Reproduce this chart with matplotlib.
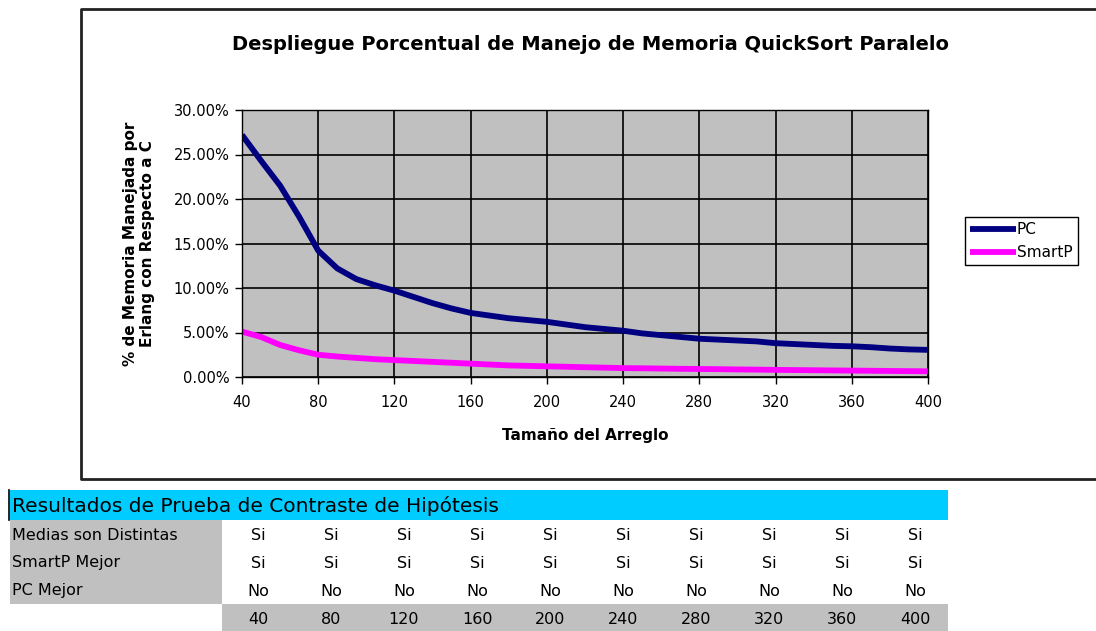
import matplotlib.pyplot as plt
from matplotlib.patches import Rectangle

plt.rcParams['font.family'] = ['DejaVu Sans']

# Chart data (percent of memory)
tamanos = list(range(40, 401, 10))
pc = [27.2, 24.3, 21.5, 18.0, 14.2, 12.2, 11.0, 10.3, 9.7, 9.0,
      8.3, 7.7, 7.2, 6.9, 6.6, 6.4, 6.2, 5.9, 5.6, 5.4,
      5.2, 4.9, 4.7, 4.5, 4.3, 4.2, 4.1, 4.0, 3.8, 3.7,
      3.6, 3.5, 3.45, 3.35, 3.2, 3.1, 3.05]
smartp = [5.1, 4.5, 3.6, 3.0, 2.5, 2.3, 2.15, 2.0, 1.9, 1.8,
          1.7, 1.6, 1.5, 1.4, 1.3, 1.25, 1.2, 1.15, 1.1, 1.05,
          1.0, 0.98, 0.95, 0.92, 0.9, 0.88, 0.85, 0.83, 0.8, 0.78,
          0.76, 0.74, 0.72, 0.7, 0.68, 0.66, 0.64]

# Table data
tabla_titulo = 'Resultados de Prueba de Contraste de Hipótesis'
filas = ['Medias son Distintas', 'SmartP Mejor', 'PC Mejor']
columnas = [40, 80, 120, 160, 200, 240, 280, 320, 360, 400]
medias_distintas = ['Si'] * 10
smartp_mejor = ['Si'] * 10
pc_mejor = ['No'] * 10

W, H = 1096, 631
fig = plt.figure(figsize=(W / 100, H / 100), dpi=100)

# overlay in pixel coords for the border, title and the table
bg = fig.add_axes([0, 0, 1, 1])
bg.set_xlim(0, W)
bg.set_ylim(H, 0)
bg.axis('off')
bg.plot([1100, 81, 81, 1100], [9, 9, 479, 479], color='#222222', lw=2)
bg.text(590, 45, 'Despliegue Porcentual de Manejo de Memoria QuickSort Paralelo',
        fontsize=14, fontweight='bold', ha='center', va='center')

# table
bg.add_patch(Rectangle((10, 490), 938, 30, color='#00CCFF', lw=0))
bg.plot([9, 9], [490, 520], color='black', lw=1.2)
bg.text(12, 506, tabla_titulo, fontsize=14.5, va='center', ha='left')
bg.add_patch(Rectangle((10, 520), 212, 84, color='#C0C0C0', lw=0))
bg.add_patch(Rectangle((222, 604), 726, 30, color='#C0C0C0', lw=0))
x0, dx = 258, 73
for i, (nombre, vals) in enumerate(zip(filas, [medias_distintas, smartp_mejor, pc_mejor])):
    y = 535 + i * 28
    bg.text(12, y, nombre, fontsize=11.5, va='center', ha='left')
    for j, v in enumerate(vals):
        bg.text(x0 + j * dx, y, v, fontsize=11.5, va='center', ha='center')
for j, c in enumerate(columnas):
    bg.text(x0 + j * dx, 619, str(c), fontsize=11.5, va='center', ha='center')

# chart
ax = fig.add_axes([242 / W, 1 - 377 / H, 686 / W, 267 / H])
ax.set_facecolor('#C0C0C0')
ax.plot(tamanos, pc, color='#000080', lw=4.2, label='PC', solid_capstyle='butt')
ax.plot(tamanos, smartp, color='#FF00FF', lw=4.2, label='SmartP', solid_capstyle='butt')
ax.set_xlim(40, 400)
ax.set_ylim(0, 30)
ax.set_xticks(range(40, 401, 40))
ax.set_yticks(range(0, 31, 5))
ax.set_yticklabels([f'{v:.2f}%' for v in range(0, 31, 5)])
ax.grid(True, color='black', lw=1.2)
ax.set_axisbelow(True)
ax.tick_params(direction='out', length=5, width=1, labelsize=10.5, color='black')
ax.tick_params(axis='x', pad=8)
ax.tick_params(axis='y', pad=4)
for s in ax.spines.values():
    s.set_color('black')
    s.set_linewidth(1)

ax.set_xlabel('Tamaño del Arreglo', fontsize=11, fontweight='bold', labelpad=13)
ax.set_ylabel('% de Memoria Manejada por\nErlang con Respecto a C', fontsize=11,
              fontweight='bold', labelpad=13)

leg = ax.legend(loc='upper left', bbox_to_anchor=(965 / W, 1 - 217 / H),
                bbox_transform=fig.transFigure, borderaxespad=0, fontsize=11,
                handlelength=3.0, handletextpad=0.05, borderpad=0.35,
                labelspacing=0.5, fancybox=False, framealpha=1)
leg.get_frame().set_edgecolor('black')
leg.get_frame().set_linewidth(1)

fig.savefig('out.png', dpi=100)
